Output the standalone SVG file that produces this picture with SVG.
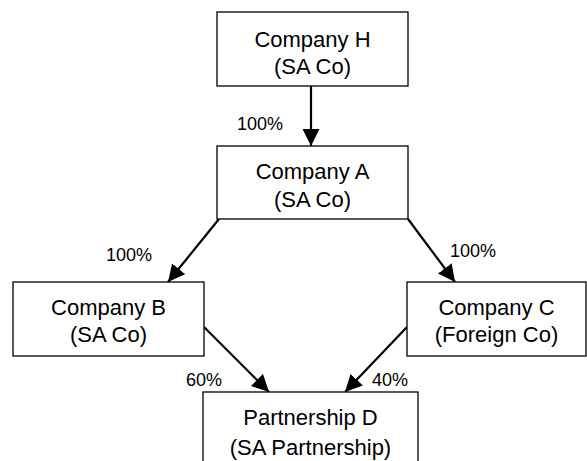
<svg xmlns="http://www.w3.org/2000/svg" width="587" height="461" viewBox="0 0 587 461">
<defs>
<style>
.box{fill:#fff;stroke:#000;stroke-width:1.3}
.t{font-family:"Liberation Sans",Arial,sans-serif;font-size:22px;fill:#000;text-anchor:middle}
.p{font-family:"Liberation Sans",Arial,sans-serif;font-size:18px;fill:#000}
.c{stroke:#000;stroke-width:2.2;fill:none;marker-end:url(#ah)}
</style>
<marker id="ah" markerUnits="userSpaceOnUse" markerWidth="17" markerHeight="17" viewBox="0 0 17 17" refX="17" refY="8.5" orient="auto">
<path d="M0,0 L17,8.5 L0,17 Z" fill="#000"/>
</marker>
</defs>
<rect width="587" height="461" fill="#fff"/>
<g id="connectors">
<line class="c" x1="311" y1="86" x2="311" y2="146"/>
<line class="c" x1="219" y1="219" x2="168" y2="282"/>
<line class="c" x1="408" y1="219" x2="455" y2="282"/>
<line class="c" x1="204" y1="327" x2="269" y2="392"/>
<line class="c" x1="407" y1="327" x2="345" y2="392"/>
<text class="p" x="237" y="130">100%</text>
<text class="p" x="106" y="261">100%</text>
<text class="p" x="450" y="257">100%</text>
<text class="p" x="186" y="386">60%</text>
<text class="p" x="372" y="386">40%</text>
</g>
<g id="nodeH">
<rect class="box" x="217" y="12" width="191" height="74"/>
<text class="t" x="312.5" y="47">Company H</text>
<text class="t" x="312.5" y="74">(SA Co)</text>
</g>
<g id="nodeA">
<rect class="box" x="217" y="146" width="191" height="73"/>
<text class="t" x="312.5" y="179">Company A</text>
<text class="t" x="312.5" y="207">(SA Co)</text>
</g>
<g id="nodeB">
<rect class="box" x="13" y="282" width="191" height="74"/>
<text class="t" x="108.5" y="315">Company B</text>
<text class="t" x="108.5" y="342">(SA Co)</text>
</g>
<g id="nodeC">
<rect class="box" x="407" y="282" width="179" height="74"/>
<text class="t" x="496.5" y="315">Company C</text>
<text class="t" x="496.5" y="342">(Foreign Co)</text>
</g>
<g id="nodeD">
<rect class="box" x="203" y="392" width="215" height="80"/>
<text class="t" x="310.5" y="425">Partnership D</text>
<text class="t" x="310.5" y="455">(SA Partnership)</text>
</g>
</svg>
